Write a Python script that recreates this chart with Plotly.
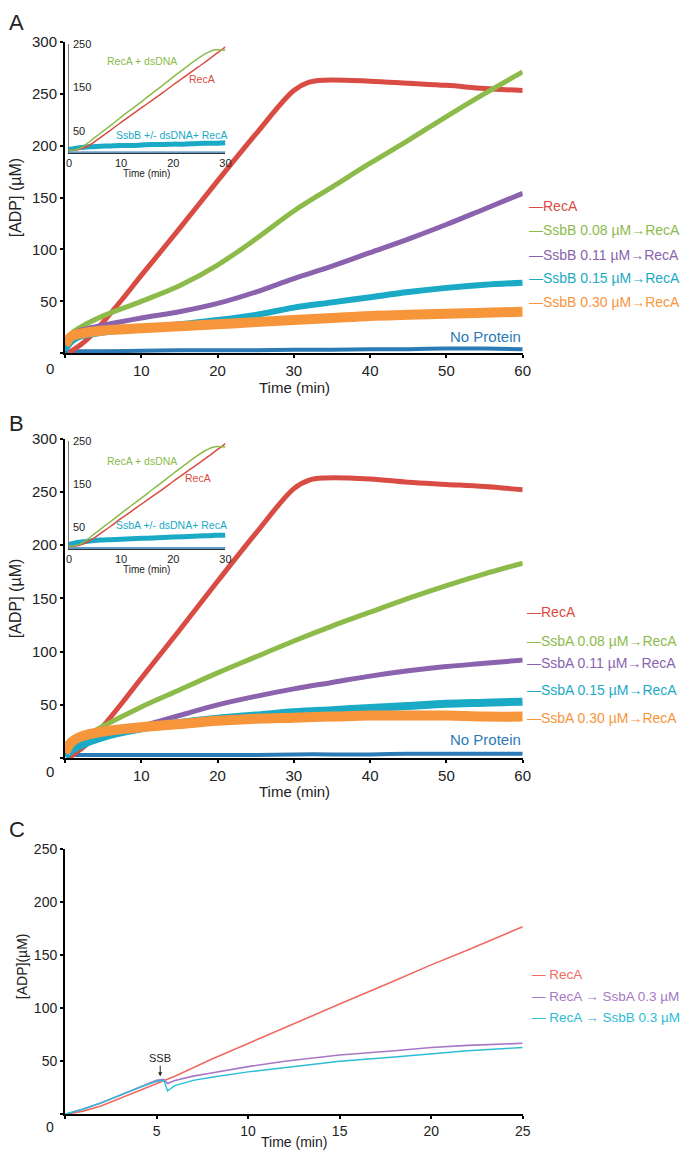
import plotly.graph_objects as go

W, H = 700, 1152
def px(x): return x / W
def py(y): return 1 - y / H

# ---------------- Panel A (SsbB) ----------------
tA = [0, 0.5, 1, 2, 5, 10, 15, 20, 25, 30, 35, 40, 45, 50, 55, 60]
tA_recA = [0.5, 1, 2, 3, 5, 7.5, 10, 15, 20, 25, 30, 32, 34, 40, 45, 50, 55, 60]
A_recA = [0, 3, 8, 14, 30, 52, 75, 120, 166, 211, 253, 261, 263, 262, 260, 258, 255, 253]
A_ssbB_008 = [5, 14, 20, 25, 36, 50, 65, 85, 110, 137, 160, 183, 205, 228, 250, 271]
A_ssbB_011 = [5, 12, 18, 22, 27, 34, 40, 48, 59, 72, 84, 97, 110, 124, 139, 154]
A_ssbB_015 = [3, 8, 12, 16, 20, 24, 28, 32, 37, 44, 49, 54, 59, 63, 66, 68]
A_ssbB_030 = [8, 14, 17, 19, 22, 24, 26, 28, 30, 32, 34, 36, 37, 38, 39, 40]
A_noprot = [2, 2, 2, 2, 2, 2.5, 3, 3, 3, 3.5, 3.5, 4, 4, 4.5, 4.5, 4]

# inset A
tI = [0, 2, 4, 6, 8, 10, 12, 14, 16, 18, 20, 22, 24, 26, 27, 28, 30]
IA_recA_ds = [5, 10, 26, 45, 63, 82, 100, 118, 137, 155, 174, 192, 210, 226, 232, 236, 235]
IA_recA = [5, 8, 18, 35, 52, 70, 87, 104, 121, 138, 156, 173, 190, 207, 216, 225, 243]
IA_ssb = [8, 12, 14, 15, 16, 17, 17, 18, 19, 19, 20, 20, 21, 22, 22, 22, 23]
IA_noprot = [1, 1, 1, 1, 1, 1, 1, 1, 1, 1, 1, 1, 1, 1, 1, 1, 1]
inset_yticks = [50, 150, 250]

# ---------------- Panel B (SsbA) ----------------
tB = tA
tB_recA = tA_recA
B_recA = [0, 3, 8, 14, 30, 52, 75, 120, 166, 211, 253, 261, 263, 262, 259, 257, 255, 252]
B_ssbA_008 = [5, 10, 14, 18, 30, 48, 64, 80, 95, 110, 124, 137, 150, 162, 173, 183]
B_ssbA_011 = [4, 8, 11, 15, 20, 30, 40, 50, 58, 65, 71, 77, 82, 86, 89, 92]
B_ssbA_015 = [2, 5, 8, 12, 20, 28, 33, 37, 40, 43, 45, 47, 49, 51, 52, 53]
B_ssbA_030 = [5, 12, 16, 20, 25, 29, 32, 35, 37, 38, 39, 40, 40, 40, 39, 39]
B_noprot = [3, 3, 3, 3, 3, 3, 3, 3, 3, 3.5, 3.5, 3.5, 4, 4, 4, 4]

IB_recA_ds = IA_recA_ds
IB_recA = IA_recA
IB_ssb = [10, 15, 18, 20, 21, 22, 23, 24, 25, 26, 27, 28, 29, 30, 30, 31, 31]
IB_noprot = IA_noprot

# ---------------- Panel C ----------------
tC = [0, 1, 2, 3, 4, 5, 6, 8, 10, 12, 15, 18, 20, 22, 25]
C_recA = [0, 3, 8, 15, 22, 29, 36, 52, 67, 82, 104, 126, 141, 155, 177]
tC_ssb = [0, 1, 2, 3, 4, 5, 5.4, 5.6, 6, 7, 8, 10, 12, 15, 18, 20, 22, 25]
C_ssbA = [0, 5, 11, 18, 25, 32, 33, 29, 32, 36, 39, 45, 50, 56, 60, 63, 65, 67]
C_ssbB = [0, 5, 11, 18, 25, 31, 32, 22, 27, 32, 35, 40, 44, 50, 54, 57, 60, 63]

RED = "#D94C43"; GREEN = "#8CBB4A"; PURPLE = "#8A62AE"; CYAN = "#1AAAC6"
ORANGE = "#F7953B"; BLUE = "#2C7BB6"
C_RED = "#EF6B60"; C_PURPLE = "#A678C6"; C_CYAN = "#2CBCD6"

FONT = "Arial, Liberation Sans, sans-serif"

fig = go.Figure()

def line(x, y, color, width, xa, ya, shape="spline"):
    fig.add_trace(go.Scatter(x=x, y=y, mode="lines", xaxis=xa, yaxis=ya,
                             line=dict(color=color, width=width, shape=shape),
                             showlegend=False, hoverinfo="skip"))

# Panel A main
line(tA, A_noprot, BLUE, 4, "x", "y")
line(tA_recA, A_recA, RED, 5, "x", "y")
line(tA, A_ssbB_008, GREEN, 5, "x", "y")
line(tA, A_ssbB_011, PURPLE, 5, "x", "y")
line(tA, A_ssbB_015, CYAN, 6, "x", "y")
line(tA, A_ssbB_030, ORANGE, 10, "x", "y")
# Inset A
line(tI, IA_noprot, BLUE, 2, "x2", "y2")
line(tI, IA_ssb, CYAN, 5, "x2", "y2")
line(tI, IA_recA, RED, 1.5, "x2", "y2")
line(tI, IA_recA_ds, GREEN, 1.5, "x2", "y2")
# Panel B main
line(tB, B_noprot, BLUE, 4, "x3", "y3")
line(tB_recA, B_recA, RED, 5, "x3", "y3")
line(tB, B_ssbA_008, GREEN, 5, "x3", "y3")
line(tB, B_ssbA_011, PURPLE, 5, "x3", "y3")
line(tB, B_ssbA_015, CYAN, 8, "x3", "y3")
line(tB, B_ssbA_030, ORANGE, 10, "x3", "y3")
# Inset B
line(tI, IB_noprot, BLUE, 2, "x4", "y4")
line(tI, IB_ssb, CYAN, 5, "x4", "y4")
line(tI, IB_recA, RED, 1.5, "x4", "y4")
line(tI, IB_recA_ds, GREEN, 1.5, "x4", "y4")
# Panel C
line(tC, C_recA, C_RED, 1.6, "x5", "y5", "linear")
line(tC_ssb, C_ssbA, C_PURPLE, 1.6, "x5", "y5", "linear")
line(tC_ssb, C_ssbB, C_CYAN, 1.4, "x5", "y5", "linear")

main_ax = dict(showline=True, linecolor="black", linewidth=2, ticks="outside",
               ticklen=3, tickwidth=1.5, tickcolor="black", showgrid=False,
               zeroline=False, tickfont=dict(family=FONT, size=15, color="#222"))

def mainx(rng, vals, anchor):
    return dict(main_ax, domain=[px(63), px(528)], range=rng, tickvals=vals,
                ticktext=[""] + [str(v) for v in vals[1:]], anchor=anchor)

def mainy(y0, y1, rng, vals, anchor):
    return dict(main_ax, domain=[py(y0), py(y1)], range=rng, tickvals=vals,
                ticktext=[""] + [str(v) for v in vals[1:]], anchor=anchor)

inset_x = dict(showline=True, linecolor="#333", linewidth=1, ticks="", showgrid=False,
               zeroline=False, tickfont=dict(family=FONT, size=11, color="#222"),
               range=[0, 30], tickvals=[0, 10, 20, 30])
inset_y = dict(showline=True, linecolor="#777", linewidth=1, ticks="", showgrid=False,
               zeroline=False, showticklabels=False, range=[0, 250])

fig.update_layout(
    width=W, height=H, margin=dict(l=0, r=0, t=0, b=0),
    paper_bgcolor="white", plot_bgcolor="rgba(0,0,0,0)", showlegend=False,
    font=dict(family=FONT),
    xaxis=mainx([0, 60], [0, 10, 20, 30, 40, 50, 60], "y"),
    yaxis=mainy(347, 33, [0, 300], [0, 50, 100, 150, 200, 250, 300], "x"),
    xaxis2=dict(inset_x, domain=[px(67), px(226)], anchor="y2"),
    yaxis2=dict(inset_y, domain=[py(145), py(35)], anchor="x2"),
    xaxis3=mainx([0, 60], [0, 10, 20, 30, 40, 50, 60], "y3"),
    yaxis3=mainy(755, 433, [0, 300], [0, 50, 100, 150, 200, 250, 300], "x3"),
    xaxis4=dict(inset_x, domain=[px(67), px(226)], anchor="y4"),
    yaxis4=dict(inset_y, domain=[py(544), py(435)], anchor="x4"),
    xaxis5=mainx([0, 25], [0, 5, 10, 15, 20, 25], "y5"),
    yaxis5=mainy(1114, 847, [0, 250], [0, 50, 100, 150, 200, 250], "x5"),
)
fig.layout.xaxis5.tickfont.size = 14
fig.layout.yaxis5.tickfont.size = 14

ann = []
def txt(x, y, s, size=15, color="#222", xanchor="center", angle=0, xref="paper", yref="paper"):
    if xref == "paper":
        x = px(x)
    if yref == "paper":
        y = py(y)
    ann.append(dict(x=x, y=y, xref=xref, yref=yref, text=s, showarrow=False,
                    xanchor=xanchor, yanchor="middle", textangle=angle,
                    font=dict(family=FONT, size=size, color=color)))

# Panel letters
txt(14, 14, "A", 22); txt(14, 418, "B", 22); txt(14, 827, "C", 22)
# Corner zeros
txt(48, 362, "0"); txt(48, 769, "0"); txt(48, 1127, "0", 14)
# Axis titles
txt(296, 381, "Time (min)"); txt(296, 789, "Time (min)"); txt(296, 1142, "Time (min)", 14)
txt(13, 190, "[ADP] (µM)", 16, angle=-90)
txt(13, 594, "[ADP] (µM)", 16, angle=-90)
txt(20, 965, "[ADP](µM)", 14, angle=-90)
# Inset y tick labels (inside the inset)
for xa, ya in (("x2", "y2"), ("x4", "y4")):
    for v in inset_yticks:
        ann.append(dict(x=0.4, y=v, xref=xa, yref=ya, text=str(v), showarrow=False,
                        xanchor="left", yanchor="middle",
                        font=dict(family=FONT, size=11, color="#222")))
# Inset titles
txt(146, 166, "Time (min)", 10); txt(146, 565, "Time (min)", 10)
txt(14, 211, "RecA + dsDNA", 10.5, GREEN, xref="x2", yref="y2")
txt(25.5, 170, "RecA", 10.5, RED, xref="x2", yref="y2")
txt(19.6, 41, "SsbB +/- dsDNA+ RecA", 10.5, CYAN, xref="x2", yref="y2")
txt(14, 204, "RecA + dsDNA", 10.5, GREEN, xref="x4", yref="y4")
txt(24.7, 163, "RecA", 10.5, RED, xref="x4", yref="y4")
txt(19.6, 55, "SsbA +/- dsDNA+ RecA", 10.5, CYAN, xref="x4", yref="y4")

# Legend labels A
legA = [("—RecA", RED, 199), ("—SsbB 0.08 µM→RecA", GREEN, 223),
        ("—SsbB 0.11 µM→RecA", PURPLE, 248), ("—SsbB 0.15 µM→RecA", CYAN, 271),
        ("—SsbB 0.30 µM→RecA", ORANGE, 295)]
for s, c, y in legA:
    txt(532, y, s, 14, c, xanchor="left")
txt(528, 330, "No Protein", 15, BLUE, xanchor="right")
legB = [("—RecA", RED, 608), ("—SsbA 0.08 µM→RecA", GREEN, 637),
        ("—SsbA 0.11 µM→RecA", PURPLE, 659), ("—SsbA 0.15 µM→RecA", CYAN, 686),
        ("—SsbA 0.30 µM→RecA", ORANGE, 715)]
for s, c, y in legB:
    txt(530, y, s, 14, c, xanchor="left")
txt(528, 736, "No Protein", 15, BLUE, xanchor="right")
legC = [("— RecA", C_RED, 973), ("— RecA → SsbA 0.3 µM", C_PURPLE, 995),
        ("— RecA → SsbB 0.3 µM", C_CYAN, 1016)]
for s, c, y in legC:
    txt(535, y, s, 13.5, c, xanchor="left")

ann.append(dict(x=5.2, y=36, xref="x5", yref="y5", text="SSB", showarrow=True,
                arrowhead=2, arrowsize=0.8, arrowwidth=1, arrowcolor="#222",
                ax=0, ay=-18, font=dict(family=FONT, size=11, color="#222")))

fig.update_layout(annotations=ann)
fig.write_html("out.html", config={"displayModeBar": False},
               post_script="document.body.style.margin='0px';document.body.style.padding='0px';")
